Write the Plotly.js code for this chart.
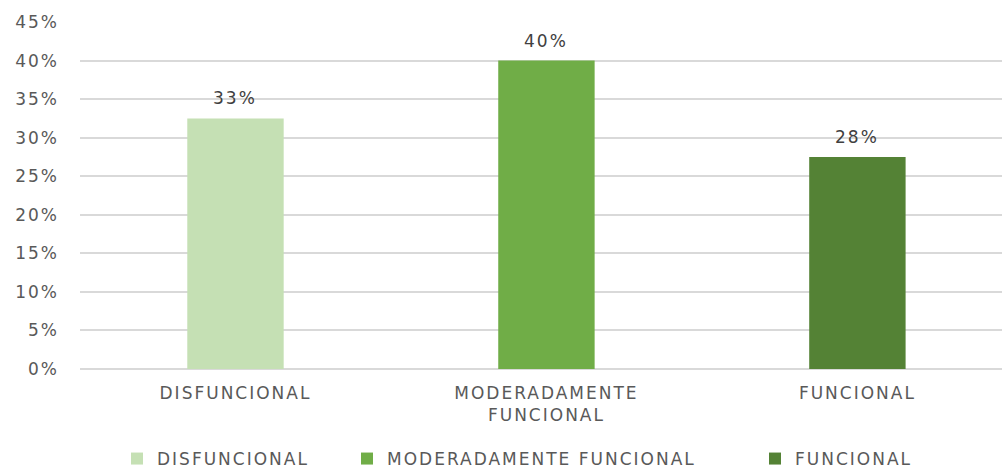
<!DOCTYPE html>
<html>
<head>
<meta charset="utf-8">
<script src="https://cdn.plot.ly/plotly-3.0.1.min.js"></script>
<style>
  html, body { margin: 0; padding: 0; background: #ffffff; }
  #chart { width: 1002px; height: 468px; }
  /* wide-set lettering for all chart text */
  svg text { letter-spacing: 2px; }
</style>
</head>
<body>
<div id="chart"></div>
<script>
// Functional level distribution (share of respondents)
var categories = ['DISFUNCIONAL', 'MODERADAMENTE FUNCIONAL', 'FUNCIONAL'];
var tickLabels = ['DISFUNCIONAL', 'MODERADAMENTE<br>FUNCIONAL', 'FUNCIONAL'];
var shares = [0.325, 0.40, 0.275];
var barColors = ['#C5E0B4', '#70AD47', '#548235'];
var yTicks = [0, 0.05, 0.10, 0.15, 0.20, 0.25, 0.30, 0.35, 0.40, 0.45];

var FONT = 'DejaVu Sans, sans-serif';
var legendIds = ['legend', 'legend2', 'legend3'];
var legendX = [117, 347, 755];

function pctLabel(v) { return Math.round(v * 100) + '%'; }

// one trace per category, each with its own legend box
var traces = categories.map(function (name, i) {
  return {
    type: 'bar',
    name: name,
    x: [i],
    y: [shares[i]],
    width: 0.31,
    marker: { color: barColors[i] },
    legend: legendIds[i],
    hoverinfo: 'name+y'
  };
});

var annotations = categories.map(function (name, i) {
  return {
    x: i,
    y: shares[i],
    xref: 'x',
    yref: 'y',
    text: pctLabel(shares[i]),
    showarrow: false,
    yanchor: 'bottom',
    yshift: 8,
    font: { family: FONT, size: 17, color: '#404040' }
  };
});

var layout = {
  width: 1002,
  height: 468,
  margin: { l: 80, r: 0, t: 22, b: 99 },
  paper_bgcolor: '#ffffff',
  plot_bgcolor: '#ffffff',
  barmode: 'overlay',
  showlegend: true,
  xaxis: {
    range: [-0.5, 2.465],
    tickmode: 'array',
    tickvals: [0, 1, 2],
    ticktext: tickLabels,
    showgrid: false,
    zeroline: false,
    showline: false,
    ticks: '',
    ticklabelstandoff: 12,
    tickfont: { family: FONT, size: 17, color: '#595959' },
    fixedrange: true
  },
  yaxis: {
    range: [0, 0.45],
    tickmode: 'array',
    tickvals: yTicks,
    tickformat: '.0%',
    showgrid: true,
    gridcolor: '#d9d9d9',
    gridwidth: 1.5,
    zeroline: true,
    zerolinecolor: '#d9d9d9',
    zerolinewidth: 1.5,
    showline: false,
    ticks: '',
    ticklabelstandoff: 20,
    tickfont: { family: FONT, size: 17, color: '#595959' },
    fixedrange: true
  },
  annotations: annotations
};

legendIds.forEach(function (id, i) {
  layout[id] = {
    orientation: 'h',
    xref: 'container',
    yref: 'container',
    x: legendX[i] / 1002,
    xanchor: 'left',
    y: 9 / 468,
    yanchor: 'middle',
    font: { family: FONT, size: 17, color: '#595959' },
    itemclick: false,
    itemdoubleclick: false
  };
});

Plotly.newPlot('chart', traces, layout, { displayModeBar: false });
</script>
</body>
</html>
